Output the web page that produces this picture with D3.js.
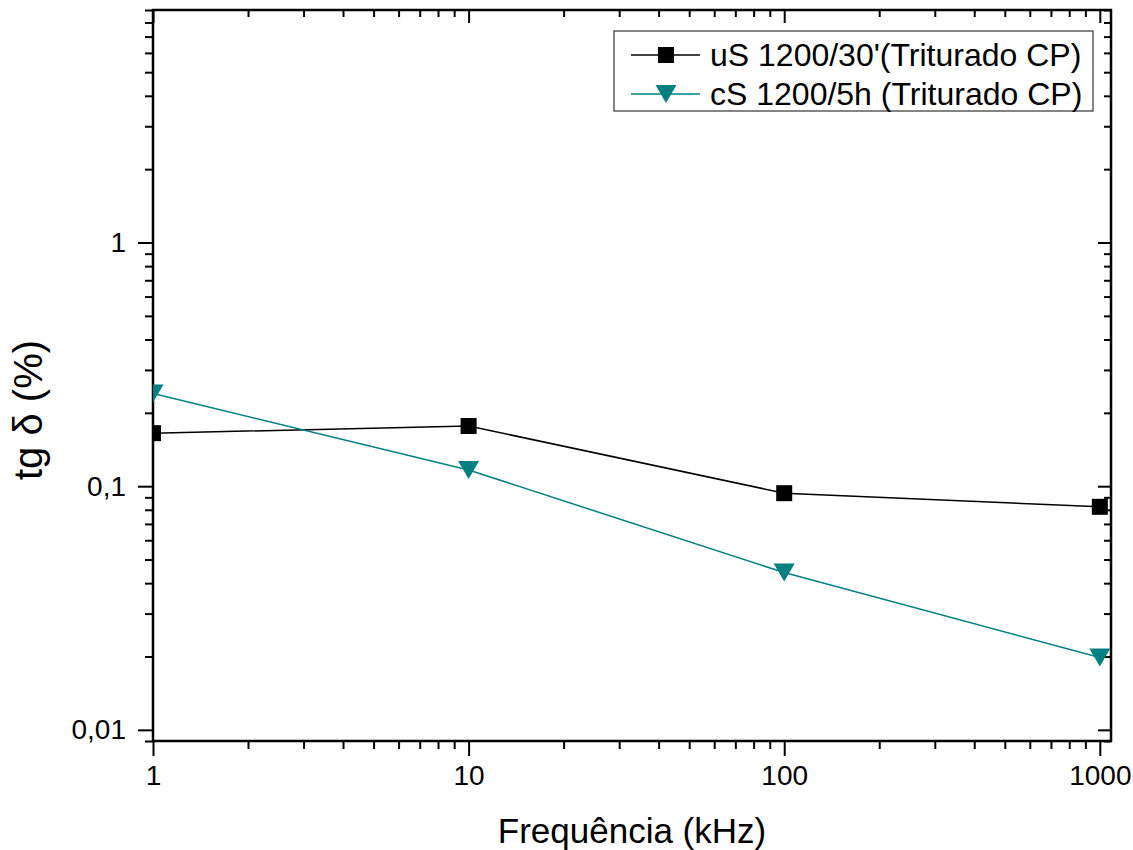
<!DOCTYPE html>
<html>
<head>
<meta charset="utf-8">
<script src="https://cdn.jsdelivr.net/npm/d3@7"></script>
<style>
  body { margin: 0; background: #fff; }
  text { font-family: Arial, "Liberation Sans", sans-serif; fill: #000; }
</style>
</head>
<body>
<div class="chart"></div>
<script>
var svgWidth = 1133;
var svgHeight = 850;

var margin = { top: 10, right: 22, bottom: 109, left: 153 };
var width = svgWidth - margin.left - margin.right;
var height = svgHeight - margin.top - margin.bottom;

// data
var freqs = [1, 10, 100, 1000];
var seriesUS = [0.165, 0.1766, 0.0936, 0.0823];
var seriesCS = [0.240, 0.1166, 0.0442, 0.0198];
var seriesNames = ["uS 1200/30'(Triturado CP)", "cS 1200/5h (Triturado CP)"];
var xTickLabels = ["1", "10", "100", "1000"];
var yTickValues = [0.01, 0.1, 1];
var yTickLabels = ["0,01", "0,1", "1"];

var svg = d3.select(".chart")
    .append("svg")
    .attr("width", svgWidth)
    .attr("height", svgHeight);

var chartGroup = svg.append("g")
    .attr("transform", `translate(${margin.left}, ${margin.top})`);

var xLogScale = d3.scaleLog().domain([1, 1085]).range([0, width]);
var yLogScale = d3.scaleLog().domain([0.009, 9]).range([height, 0]);

// minor ticks 2..9 in each decade
var xMinor = [];
[1, 10, 100].forEach(function (d) {
    for (var k = 2; k <= 9; k++) xMinor.push(d * k);
});
var yMinor = [];
[0.001, 0.01, 0.1, 1].forEach(function (d) {
    for (var k = 2; k <= 9; k++) {
        var v = d * k;
        if (v >= 0.009 && v <= 9) yMinor.push(v);
    }
});

// bottom axis (outward)
var bottomAxis = d3.axisBottom(xLogScale).tickValues(freqs)
    .tickFormat((d, i) => xTickLabels[i]).tickSize(15).tickPadding(9);
var xAxis = chartGroup.append("g")
    .attr("transform", `translate(0, ${height})`)
    .call(bottomAxis);
chartGroup.append("g")
    .attr("transform", `translate(0, ${height})`)
    .call(d3.axisBottom(xLogScale).tickValues(xMinor).tickSize(8).tickFormat(""));

// left axis (outward)
var leftAxis = d3.axisLeft(yLogScale).tickValues(yTickValues)
    .tickFormat((d, i) => yTickLabels[i]).tickSize(15).tickPadding(12);
chartGroup.append("g").call(leftAxis);
chartGroup.append("g")
    .call(d3.axisLeft(yLogScale).tickValues(yMinor).tickSize(8).tickFormat(""));

// top axis (inward)
chartGroup.append("g")
    .call(d3.axisTop(xLogScale).tickValues(freqs).tickSize(-13).tickFormat(""));
chartGroup.append("g")
    .call(d3.axisTop(xLogScale).tickValues(xMinor).tickSize(-7).tickFormat(""));

// right axis (inward)
chartGroup.append("g")
    .attr("transform", `translate(${width}, 0)`)
    .call(d3.axisRight(yLogScale).tickValues(yTickValues).tickSize(-13).tickFormat(""));
chartGroup.append("g")
    .attr("transform", `translate(${width}, 0)`)
    .call(d3.axisRight(yLogScale).tickValues(yMinor).tickSize(-7).tickFormat(""));

chartGroup.selectAll(".domain").remove();
chartGroup.selectAll(".tick line").attr("stroke", "#000").attr("stroke-width", 2);
chartGroup.selectAll(".tick text").attr("font-size", "28px").attr("fill", "#000");

// frame
chartGroup.append("rect")
    .attr("x", 0).attr("y", 0)
    .attr("width", width).attr("height", height)
    .attr("fill", "none")
    .attr("stroke", "#000")
    .attr("stroke-width", 2.5);

// clip for data
svg.append("defs").append("clipPath").attr("id", "plotClip")
    .append("rect").attr("width", width).attr("height", height);

var dataGroup = chartGroup.append("g").attr("clip-path", "url(#plotClip)");

var lineGen = d3.line()
    .x(d => xLogScale(d[0]))
    .y(d => yLogScale(d[1]));

var usData = freqs.map((f, i) => [f, seriesUS[i]]);
var csData = freqs.map((f, i) => [f, seriesCS[i]]);

dataGroup.append("path")
    .datum(usData)
    .attr("d", lineGen)
    .attr("fill", "none")
    .attr("stroke", "#000")
    .attr("stroke-width", 1.5);

dataGroup.append("path")
    .datum(csData)
    .attr("d", lineGen)
    .attr("fill", "none")
    .attr("stroke", "#008080")
    .attr("stroke-width", 1.5);

var sq = 16;
dataGroup.selectAll("rect.us")
    .data(usData)
    .enter()
    .append("rect")
    .attr("class", "us")
    .attr("x", d => xLogScale(d[0]) - sq / 2)
    .attr("y", d => yLogScale(d[1]) - sq / 2)
    .attr("width", sq)
    .attr("height", sq)
    .attr("fill", "#000");

function triPath(cx, cy) {
    return `M${cx - 10.5},${cy - 9}L${cx + 10.5},${cy - 9}L${cx},${cy + 9}Z`;
}

dataGroup.selectAll("path.cs")
    .data(csData)
    .enter()
    .append("path")
    .attr("class", "cs")
    .attr("d", d => triPath(xLogScale(d[0]), yLogScale(d[1])))
    .attr("fill", "#008080");

// axis titles
svg.append("text")
    .attr("x", margin.left + width / 2)
    .attr("y", 843)
    .attr("text-anchor", "middle")
    .attr("font-size", "35px")
    .text("Frequência (kHz)");

svg.append("text")
    .attr("transform", "translate(42, 410) rotate(-90)")
    .attr("text-anchor", "middle")
    .attr("font-size", "40px")
    .text("tg δ (%)");

// legend
var legend = svg.append("g");
legend.append("rect")
    .attr("x", 614).attr("y", 31)
    .attr("width", 479).attr("height", 80)
    .attr("fill", "#fff")
    .attr("stroke", "#333")
    .attr("stroke-width", 1.2);

var legendRows = [55, 94];
var legendColors = ["#000", "#008080"];
legendRows.forEach(function (ry, i) {
    legend.append("line")
        .attr("x1", 631).attr("x2", 700)
        .attr("y1", ry).attr("y2", ry)
        .attr("stroke", legendColors[i])
        .attr("stroke-width", 1.5);
    if (i === 0) {
        legend.append("rect")
            .attr("x", 666 - sq / 2).attr("y", ry - sq / 2)
            .attr("width", sq).attr("height", sq)
            .attr("fill", "#000");
    } else {
        legend.append("path")
            .attr("d", triPath(666, ry))
            .attr("fill", "#008080");
    }
    legend.append("text")
        .attr("x", 710)
        .attr("y", ry + 11)
        .attr("font-size", "32px")
        .text(seriesNames[i]);
});
</script>
</body>
</html>
